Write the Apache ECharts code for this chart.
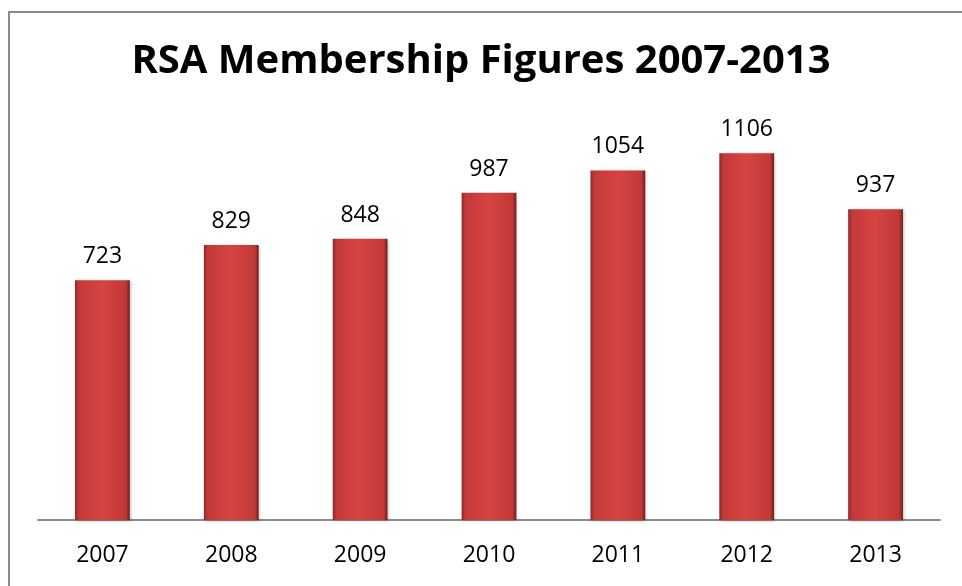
<!DOCTYPE html>
<html>
<head>
<meta charset="utf-8">
<style>html,body{margin:0;padding:0;background:#fff;}#c{width:962px;height:586px;}</style>
<script src="https://cdn.jsdelivr.net/npm/echarts@6/dist/echarts.min.js"></script>
</head>
<body>
<div id="c"></div>
<script>
var titleText = 'RSA Membership Figures 2007-2013';
var categories = ['2007','2008','2009','2010','2011','2012','2013'];
var members = [723, 829, 848, 987, 1054, 1106, 937];

var chart = echarts.init(document.getElementById('c'), null, {renderer:'canvas'});
var font = '"Open Sans", "Liberation Sans", sans-serif';
chart.setOption({
  animation: false,
  backgroundColor: '#fff',
  title: {
    text: titleText, left: 'center', top: 37,
    textStyle: {fontFamily: font, fontWeight: 'bold', fontSize: 40, color: '#000'}
  },
  graphic: [{
    type: 'rect', shape: {x: 9, y: 12, width: 1000, height: 700},
    style: {fill: 'none', stroke: '#8a8a8a', lineWidth: 2}, z: -1
  }],
  grid: {left: 38, right: 22, top: 122, bottom: 66},
  xAxis: {
    type: 'category', data: categories,
    axisLine: {lineStyle: {color: '#8c8c8c', width: 2}},
    axisTick: {show: false},
    axisLabel: {fontFamily: font, fontSize: 23, color: '#000', margin: 24}
  },
  yAxis: {type: 'value', min: 0, max: 1200, show: false, splitLine: {show: false}},
  series: [{
    type: 'bar', data: members, barWidth: '42.5%',
    itemStyle: {
      color: new echarts.graphic.LinearGradient(0, 0, 1, 0, [
        {offset: 0, color: '#8e2828'},
        {offset: 0.07, color: '#c23a38'},
        {offset: 0.5, color: '#d74442'},
        {offset: 0.93, color: '#c03836'},
        {offset: 1, color: '#6e1e1e'}
      ]),
      shadowColor: 'rgba(0,0,0,0.25)', shadowBlur: 3, shadowOffsetX: 1, shadowOffsetY: 1
    },
    label: {show: true, position: 'top', distance: 12, fontFamily: font, fontSize: 23, color: '#000'}
  }]
});
</script>
</body>
</html>
